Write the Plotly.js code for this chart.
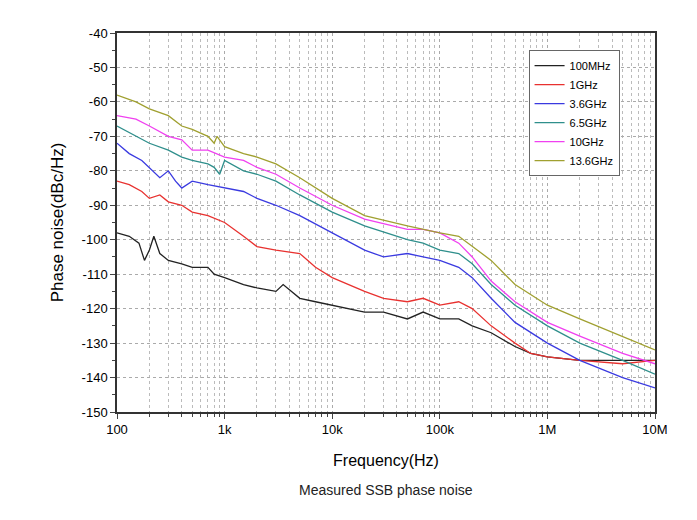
<!DOCTYPE html>
<html>
<head>
<script src="https://cdn.plot.ly/plotly-3.0.1.min.js"></script>
<style>body{margin:0;background:#fff}</style>
</head>
<body>
<div id="graphDiv" style="width:697px;height:520px"></div>
<script>
// values (frequency in Hz, noise in dBc/Hz)
let freqBlack = [100,130,160,180,200,220,250,300,400,500,700,800,1000,1500,2000,3000,3500,5000,7000,10000,20000,30000,50000,70000,100000,150000,200000,300000,500000,700000,1000000,2000000,5000000,10000000];
let valBlack  = [-98,-99,-101,-106,-103,-99,-104,-106,-107,-108,-108,-110,-111,-113,-114,-115,-113,-117,-118,-119,-121,-121,-123,-121,-123,-123,-125,-127,-131,-133,-134,-135,-135,-135];

let freqRed = [100,130,170,200,250,300,400,500,700,1000,1500,2000,3000,5000,7000,10000,20000,30000,50000,70000,100000,150000,200000,300000,500000,700000,1000000,2000000,5000000,10000000];
let valRed  = [-83,-84,-86,-88,-87,-89,-90,-92,-93,-95,-99,-102,-103,-104,-108,-111,-115,-117,-118,-117,-119,-118,-120,-125,-130,-133,-134,-135,-136,-135];

let freqBlue = [100,130,170,200,250,300,350,400,500,700,1000,1500,2000,3000,5000,10000,20000,30000,50000,70000,100000,150000,200000,300000,500000,1000000,2000000,5000000,10000000];
let valBlue  = [-72,-75,-77,-79,-82,-80,-83,-85,-83,-84,-85,-86,-88,-90,-93,-98,-103,-105,-104,-105,-106,-108,-111,-117,-124,-130,-135,-140,-143];

let freqTeal = [100,150,200,300,400,500,700,800,900,1000,1500,2000,3000,5000,10000,20000,50000,70000,100000,150000,200000,300000,500000,1000000,2000000,5000000,10000000];
let valTeal  = [-67,-70,-72,-74,-76,-77,-78,-79,-81,-77,-80,-81,-83,-87,-92,-96,-100,-101,-103,-104,-107,-113,-119,-125,-130,-135,-139];

let freqMag = [100,150,200,300,400,500,700,1000,1500,2000,3000,5000,10000,20000,50000,70000,100000,150000,200000,300000,500000,1000000,2000000,5000000,10000000];
let valMag  = [-64,-65,-67,-70,-71,-74,-74,-76,-77,-79,-81,-85,-90,-94,-97,-97,-98,-101,-105,-112,-118,-124,-128,-133,-136];

let freqOlive = [100,150,200,300,400,500,700,800,850,1000,1500,2000,3000,5000,10000,20000,50000,70000,100000,150000,200000,300000,500000,1000000,2000000,5000000,10000000];
let valOlive  = [-58,-60,-62,-64,-67,-68,-70,-72,-70,-73,-75,-76,-78,-82,-88,-93,-96,-97,-98,-99,-102,-106,-113,-119,-123,-128,-132];

let seriesNames = ['100MHz','1GHz','3.6GHz','6.5GHz','10GHz','13.6GHz'];
let seriesColors = ['#222222','#e8312f','#3a3ae0','#2f8f8c','#f040f0','#a0a030'];
let tickVals = [100,1000,10000,100000,1000000,10000000];
let tickText = ['100','1k','10k','100k','1M','10M'];
let yTickVals = [-150,-140,-130,-120,-110,-100,-90,-80,-70,-60,-50,-40];
let yTickText = yTickVals.map(v => String(v));

let xs = [freqBlack,freqRed,freqBlue,freqTeal,freqMag,freqOlive];
let ys = [valBlack,valRed,valBlue,valTeal,valMag,valOlive];

let data = seriesNames.map((n,i) => ({
    x: xs[i], y: ys[i], name: n, type: 'scatter', mode: 'lines',
    line: {color: seriesColors[i], width: 1.3}
}));

let gridStyle = {showgrid: true, gridcolor: '#aaaaaa', griddash: 'dot', gridwidth: 1};

let layout = {
    width: 697, height: 520,
    margin: {l: 117, r: 42, t: 33, b: 108},
    paper_bgcolor: '#fff', plot_bgcolor: '#fff',
    font: {family: 'Arial, Liberation Sans, sans-serif', color: '#000', size: 13},
    showlegend: true,
    legend: {x: 0.765, y: 0.955, xanchor: 'left', yanchor: 'top', bordercolor: '#666', borderwidth: 1,
             bgcolor: '#fff', font: {size: 11}, tracegroupgap: 0},
    xaxis: Object.assign({
        type: 'log', range: [2, 7], tickvals: tickVals, ticktext: tickText,
        ticks: 'outside', ticklen: 5, linecolor: '#333', linewidth: 1.5, mirror: true,
        minor: {dtick: 'D1', showgrid: true, gridcolor: '#bbbbbb', griddash: 'dot', ticks: 'outside', ticklen: 3},
        title: {text: 'Frequency(Hz)', font: {size: 16}, standoff: 18},
        zeroline: false
    }, gridStyle),
    yaxis: Object.assign({
        range: [-150, -40], tickvals: yTickVals, ticktext: yTickText, ticks: 'outside', ticklen: 5,
        linecolor: '#333', linewidth: 1.5, mirror: true,
        minor: {dtick: 5, ticks: 'outside', ticklen: 3, showgrid: false},
        title: {text: 'Phase noise(dBc/Hz)', font: {size: 17}, standoff: 14},
        zeroline: false
    }, gridStyle),
    annotations: [{
        text: 'Measured SSB phase noise', xref: 'paper', yref: 'paper',
        x: 0.5, y: -0.232, showarrow: false, font: {size: 14, color: '#222'}
    }]
};

Plotly.newPlot('graphDiv', data, layout, {displayModeBar: false});
</script>
</body>
</html>
